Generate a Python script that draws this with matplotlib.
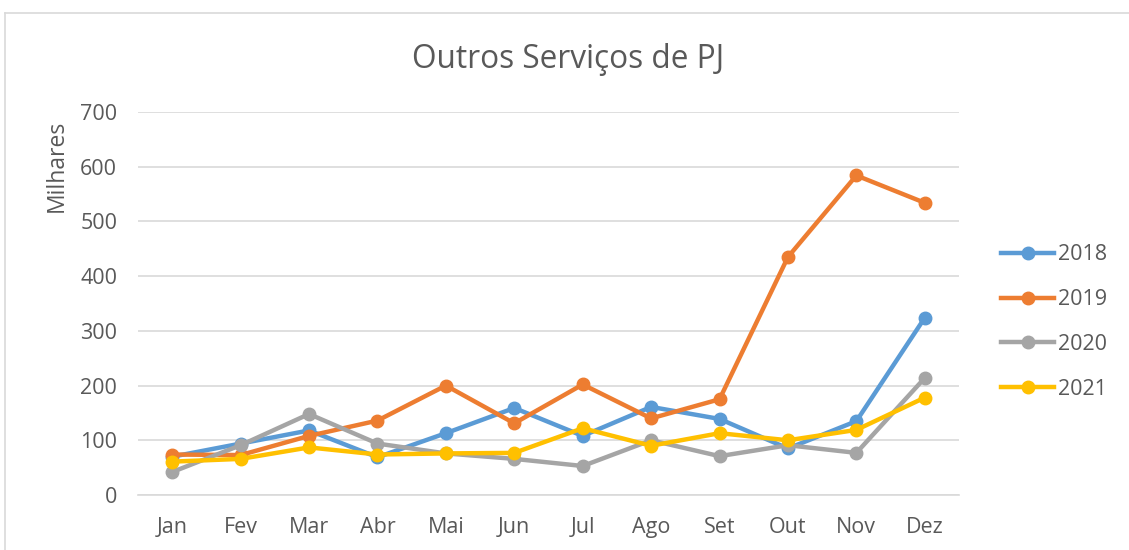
"""Outros Servicos de PJ - monthly line chart by year."""

import matplotlib

matplotlib.use('Agg')
import matplotlib.pyplot as plt
from matplotlib.lines import Line2D

plt.rcParams['font.family'] = ['Open Sans', 'DejaVu Sans']

months = ['Jan', 'Fev', 'Mar', 'Abr', 'Mai', 'Jun', 'Jul', 'Ago', 'Set', 'Out', 'Nov', 'Dez']
years = ['2018', '2019', '2020', '2021']

vals_2018 = [70, 94, 118, 69, 113, 159, 108, 161, 139, 85, 135, 324]
vals_2019 = [74, 73, 108, 136, 200, 131, 202, 140, 175, 435, 584, 534]
vals_2020 = [42, 91, 148, 94, 76, 66, 53, 100, 71, 91, 77, 214]
vals_2021 = [61, 66, 87, 74, 76, 77, 122, 90, 113, 100, 119, 178]

y_ticks = [0, 100, 200, 300, 400, 500, 600, 700]

series = [vals_2018, vals_2019, vals_2020, vals_2021]
colors = ['#5B9BD5', '#ED7D31', '#A5A5A5', '#FFC000']
text_color = '#595959'
grid_color = '#D9D9D9'

fig = plt.figure(figsize=(11.29, 5.5), dpi=100)
ax = fig.add_axes([138 / 1129, 55 / 550, 821 / 1129, 383 / 550])

x = list(range(len(months)))
for vals, col, yr in zip(series, colors, years):
    ax.plot(x, vals, '-o', color=col, linewidth=3.2, markersize=9,
            solid_capstyle='round', solid_joinstyle='round', label=yr, zorder=3)

ax.set_xlim(-0.5, len(months) - 0.5)
ax.set_ylim(0, 700)
ax.set_yticks(y_ticks)
ax.set_xticks(x)
ax.set_xticklabels(months)
ax.tick_params(axis='both', length=0, labelsize=15.5, colors=text_color)
ax.tick_params(axis='y', pad=15)
ax.tick_params(axis='x', pad=16)
ax.grid(True, axis='y', color=grid_color, linewidth=1.2, zorder=0)
ax.set_axisbelow(True)
for side in ['top', 'right', 'left']:
    ax.spines[side].set_visible(False)
ax.spines['bottom'].set_color(grid_color)
ax.spines['bottom'].set_linewidth(1.2)

fig.text(568 / 1129, 1 - 60 / 550, 'Outros Serviços de PJ', ha='center', va='center',
         fontsize=22.8, color=text_color)
fig.text(57 / 1129, 1 - 166 / 550, 'Milhares', rotation=90, ha='center', va='center',
         fontsize=16.5, color=text_color)

handles = [Line2D([0], [0], color=c, linewidth=3.2, marker='o', markersize=9)
           for c in colors]
fig.legend(handles, years, loc='center left', bbox_to_anchor=(982 / 1129, 1 - 322 / 550),
           frameon=False, fontsize=15.5, handlelength=2.45, labelspacing=1.1,
           handletextpad=0.2, borderpad=0.4, labelcolor=text_color)

# chart frame (top and left edges of the Excel chart area)
fig.add_artist(Line2D([5 / 1129, 1], [1 - 13 / 550, 1 - 13 / 550], color=grid_color,
                      linewidth=1.2, transform=fig.transFigure))
fig.add_artist(Line2D([5 / 1129, 5 / 1129], [0, 1 - 13 / 550], color=grid_color,
                      linewidth=1.2, transform=fig.transFigure))

fig.savefig('out.png', dpi=100)
